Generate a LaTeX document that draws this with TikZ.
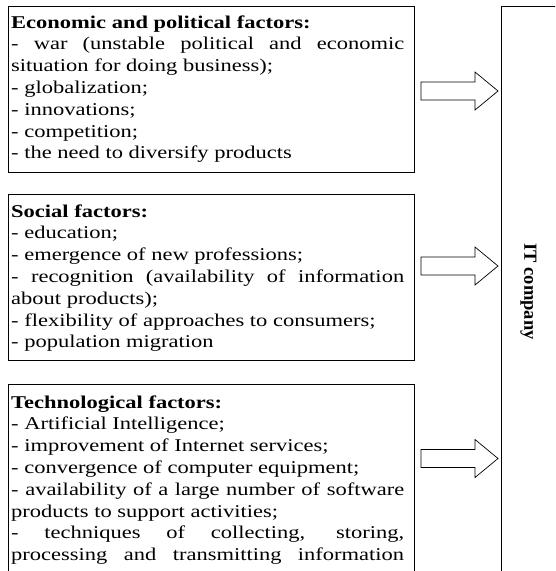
\documentclass[tikz,border=0pt]{standalone}
\usepackage{fontspec}
\setmainfont{Liberation Serif}[FakeStretch=1.25]
\newfontfamily\itcofont{Liberation Serif}
\begin{document}
\begin{tikzpicture}[x=1pt,y=-1pt,
  framebox/.style={draw=black,line width=0.8pt,anchor=north west,inner sep=0pt},
  factortext/.style={anchor=base west,inner sep=0pt,text width=393pt,align=justify,
    font=\fontsize{18}{21.8}\selectfont},
  blockarrow/.style={draw=black,fill=white,line width=0.7pt,line join=miter}]
\useasboundingbox (0,0) rectangle (555,571);
\begin{scope}
\clip (0,0) rectangle (555,571);
% factor boxes
\node[framebox,minimum width=406pt,minimum height=166pt] (econbox) at (8,6) {};
\node[framebox,minimum width=406pt,minimum height=166pt] (socbox) at (8,194) {};
\node[framebox,minimum width=406pt,minimum height=200pt] (techbox) at (8,384) {};
% IT company box
\node[framebox,minimum width=70pt,minimum height=580pt] (itbox) at (501,6) {};
% texts
\node[factortext] (econtext) at (11,28) {\tolerance=10000\hyphenpenalty=10000
\textbf{Economic and political factors:}\par
- war (unstable political and economic\linebreak situation for doing business);\par
- globalization;\par
- innovations;\par
- competition;\par
- the need to diversify products\par};
\node[factortext] (soctext) at (11,217) {\tolerance=10000\hyphenpenalty=10000
\textbf{Social factors:}\par
- education;\par
- emergence of new professions;\par
- recognition (availability of information\linebreak about products);\par
- flexibility of approaches to consumers;\par
- population migration\par};
\node[factortext] (techtext) at (11,408) {\tolerance=10000\hyphenpenalty=10000
\textbf{Technological factors:}\par
- Artificial Intelligence;\par
- improvement of Internet services;\par
- convergence of computer equipment;\par
- availability of a large number of software\linebreak products to support activities;\par
- techniques of collecting, storing,\linebreak processing and transmitting information\linebreak\mbox{}\par};
\node[rotate=-90,inner sep=0pt,font=\itcofont\bfseries\fontsize{18.5}{20}\selectfont] (itlabel) at (528.5,291.5) {IT company};
% block arrows
\foreach \c in {91,266,458.5}{
  \draw[blockarrow] (421,\c-9) -- (475,\c-9) -- (475,\c-19) -- (498,\c)
    -- (475,\c+19) -- (475,\c+9) -- (421,\c+9) -- cycle;
}
\end{scope}
\end{tikzpicture}
\end{document}
